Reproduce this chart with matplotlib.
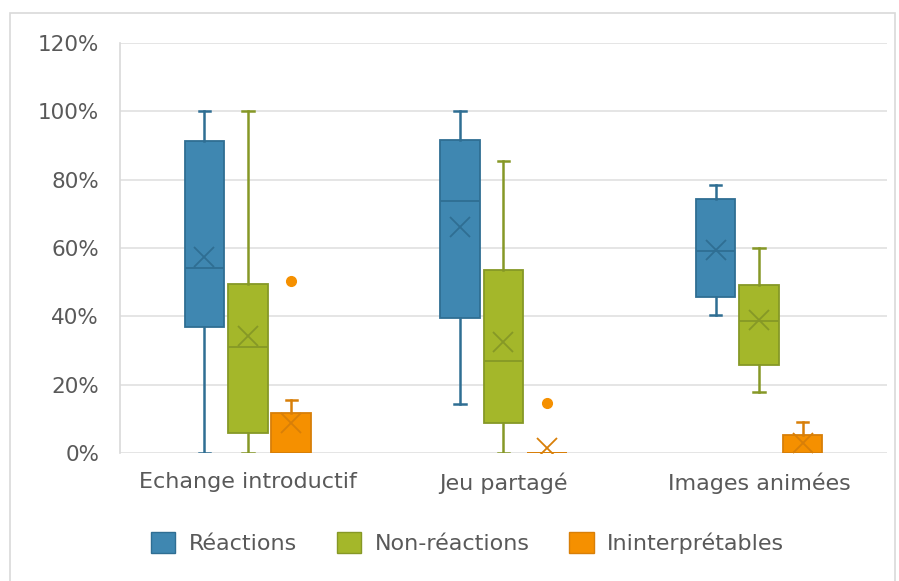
import matplotlib.pyplot as plt
from matplotlib.patches import Patch, Rectangle
from matplotlib.ticker import PercentFormatter

plt.rcParams["font.family"] = ["DejaVu Sans"]

categories = ["Echange introductif", "Jeu partagé", "Images animées"]
series = ["Réactions", "Non-réactions", "Ininterprétables"]

# box-plot statistics per series, one value per category (in %)
whislo = {
    "Réactions": [0.0, 14.3, 40.4],
    "Non-réactions": [0.0, 0.0, 17.8],
    "Ininterprétables": [0.0, 0.0, 0.0],
}
q1 = {
    "Réactions": [36.8, 39.5, 45.6],
    "Non-réactions": [5.8, 8.8, 25.7],
    "Ininterprétables": [0.0, 0.0, 0.0],
}
med = {
    "Réactions": [54.1, 73.7, 59.0],
    "Non-réactions": [31.0, 26.9, 38.6],
    "Ininterprétables": [0.0, 0.0, 0.0],
}
q3 = {
    "Réactions": [91.2, 91.5, 74.3],
    "Non-réactions": [49.4, 53.5, 49.1],
    "Ininterprétables": [11.7, 0.0, 5.3],
}
whishi = {
    "Réactions": [100.0, 100.0, 78.4],
    "Non-réactions": [100.0, 85.4, 60.0],
    "Ininterprétables": [15.5, 0.0, 9.1],
}
means = {
    "Réactions": [57.3, 66.0, 59.4],
    "Non-réactions": [34.2, 32.5, 38.9],
    "Ininterprétables": [8.8, 1.5, 2.9],
}
fliers = {
    "Réactions": [[], [], []],
    "Non-réactions": [[], [], []],
    "Ininterprétables": [[50.3], [14.6], []],
}

face = {"Réactions": "#3F87B1", "Non-réactions": "#A4B72A", "Ininterprétables": "#F59000"}
edge = {"Réactions": "#2F6E93", "Non-réactions": "#869826", "Ininterprétables": "#D87F08"}
offsets = [-0.17, 0.0, 0.17]

fig = plt.figure(figsize=(8.99, 5.81), dpi=100)
fig.patches.append(Rectangle((0.011, -0.01), 0.985, 0.987, transform=fig.transFigure,
                             fill=False, edgecolor="#D9D9D9", linewidth=1.2))
ax = fig.add_axes([0.1335, 0.2203, 0.853, 0.7057])

for s, off in zip(series, offsets):
    stats = []
    for i in range(len(categories)):
        stats.append({
            "whislo": whislo[s][i] / 100, "q1": q1[s][i] / 100, "med": med[s][i] / 100,
            "q3": q3[s][i] / 100, "whishi": whishi[s][i] / 100, "mean": means[s][i] / 100,
            "fliers": [v / 100 for v in fliers[s][i]],
        })
    ax.bxp(stats, positions=[i + off for i in range(len(categories))], widths=0.155,
           patch_artist=True, showmeans=True, manage_ticks=False,
           boxprops=dict(facecolor=face[s], edgecolor=edge[s], linewidth=1.3),
           medianprops=dict(color=edge[s], linewidth=1.3),
           whiskerprops=dict(color=edge[s], linewidth=1.8),
           capprops=dict(color=edge[s], linewidth=1.8),
           capwidths=0.045,
           meanprops=dict(marker="x", markersize=15, markeredgecolor=edge[s],
                          markeredgewidth=1.3),
           flierprops=dict(marker="o", markersize=7, markerfacecolor=face[s],
                           markeredgecolor=face[s]))

ax.set_xlim(-0.5, 2.5)
ax.set_ylim(0, 1.2)
ax.set_yticks([0, 0.2, 0.4, 0.6, 0.8, 1.0, 1.2])
ax.yaxis.set_major_formatter(PercentFormatter(1.0, decimals=0))
ax.set_xticks(range(len(categories)))
ax.set_xticklabels(categories)
ax.tick_params(axis="both", length=0, labelcolor="#595959")
ax.tick_params(axis="x", pad=14, labelsize=16)
ax.tick_params(axis="y", pad=15, labelsize=15.5)
ax.grid(axis="y", color="#E0E0E0", linewidth=1.2)
ax.set_axisbelow(True)
for side in ["top", "right", "bottom"]:
    ax.spines[side].set_visible(False)
ax.spines["left"].set_color("#D9D9D9")
ax.spines["left"].set_linewidth(1.2)

handles = [Patch(facecolor=face[s], edgecolor=edge[s], label=s) for s in series]
fig.legend(handles=handles, loc="center", bbox_to_anchor=(0.52, 0.065), ncol=3,
           frameon=False, fontsize=16, labelcolor="#595959", handlelength=1.1,
           handleheight=1.1, columnspacing=1.8, handletextpad=0.6)

fig.savefig("out.png", dpi=100)
